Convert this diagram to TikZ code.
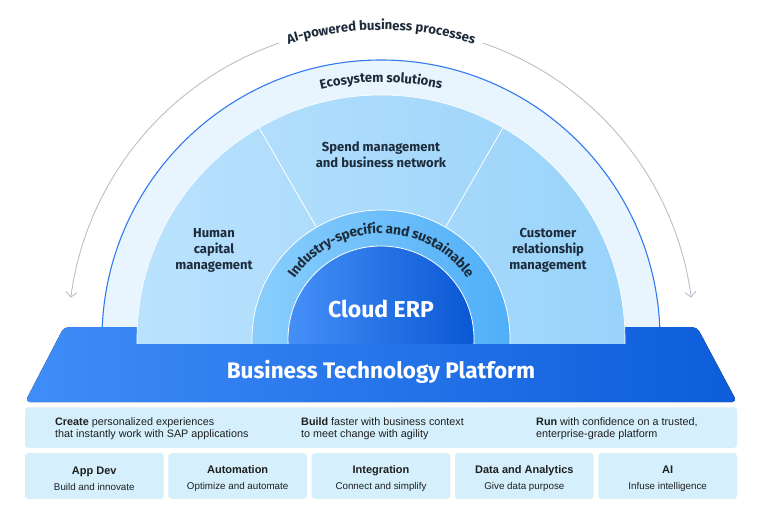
\documentclass[tikz,border=0pt]{standalone}
\usepackage{fontspec}
\setmainfont{Fira Sans}
\newfontfamily\arialfont{Liberation Sans}
\usetikzlibrary{arrows.meta,decorations.text}

\definecolor{inkdark}{HTML}{1D2B3B}
\definecolor{arcgrey}{HTML}{B7BFC8}
\definecolor{ecofill}{HTML}{E8F5FE}
\definecolor{ecoline}{HTML}{3479EE}
\definecolor{segleft}{HTML}{BAE2FD}
\definecolor{segright}{HTML}{99D3FA}
\definecolor{ringleft}{HTML}{8ACEFC}
\definecolor{ringright}{HTML}{4FAFF8}
\definecolor{erpleft}{HTML}{4590F7}
\definecolor{erpright}{HTML}{0A57D4}
\definecolor{platleft}{HTML}{3F8DF8}
\definecolor{platright}{HTML}{0D5CDA}
\definecolor{tilefill}{HTML}{D5F0FC}

\begin{document}
\begin{tikzpicture}[x=1pt,y=1pt,node distance={143.35pt},
  flow/.style={draw=arcgrey, line width=0.9pt, -{Straight Barb[length=5pt,width=11pt]}},
  split/.style={draw=white, line width=0.8pt},
  seglabel/.style={align=center, text=inkdark, font=\bfseries\fontsize{13}{16}\selectfont},
  tile/.style={fill=tilefill, rounded corners=3pt, minimum width=138.6pt, minimum height=45.6pt, inner sep=0pt, align=center, text=black!88, font=\arialfont\fontsize{11}{13}\selectfont},
  blurb/.style={align=left, anchor=west, inner sep=0pt, text=black!88, font=\arialfont\fontsize{10.8}{12.3}\selectfont}]
\useasboundingbox (0,0) rectangle (768,512);
\coordinate (C) at (381,173);

\coordinate (gl) at ([shift={(109:313)}]C);
\coordinate (gr) at ([shift={(71:313)}]C);
\draw[flow] (gl) arc[start angle=109, end angle=172.4, radius=313];
\draw[flow] (gr) arc[start angle=71, end angle=7.6, radius=313];
\path[decorate, decoration={text along path, text align=center, raise=-4pt,
  text={|\bfseries\fontsize{13.2}{15}\selectfont\color{inkdark}|AI-powered business processes}}]
  ([shift={(180:313)}]C) arc[start angle=180, end angle=0, radius=313];

\draw[fill=ecofill, draw=ecoline, line width=1.1pt] ([shift={(0:279)}]C) arc[start angle=0, end angle=180, radius=279] -- cycle;
\path[decorate, decoration={text along path, text align=center, raise=-4pt,
  text={|\bfseries\fontsize{13.2}{15}\selectfont\color{inkdark}|Ecosystem solutions}}]
  ([shift={(180:261)}]C) arc[start angle=180, end angle=0, radius=261];

\coordinate (pbl) at (25,110);
\coordinate (ptl) at (64,185);
\coordinate (ptr) at (697,185);
\coordinate (pbr) at (737,110);
\fill[left color=platleft, right color=platright, rounded corners=5pt] (pbl) -- (ptl) -- (ptr) -- (pbr) -- cycle;
\node[text=white, font=\bfseries\fontsize{22.5}{26}\selectfont, anchor=base] (btp) at (381,133.7) {Business Technology Platform};

\begin{scope}
\clip (0,169) rectangle (768,512);
\path[left color=segleft, right color=segright, draw=white, line width=0.6pt] (C) circle[radius=244];
\coordinate (la) at ([shift={(120:129)}]C);
\coordinate (lb) at ([shift={(120:244)}]C);
\coordinate (ra) at ([shift={(60:129)}]C);
\coordinate (rb) at ([shift={(60:244)}]C);
\draw[split] (la) -- (lb);
\draw[split] (ra) -- (rb);
\path[left color=ringleft, right color=ringright, draw=white, line width=0.8pt] (C) circle[radius=129];
\path[left color=erpleft, right color=erpright, draw=white, line width=0.8pt] (C) circle[radius=93];
\end{scope}
\path[decorate, decoration={text along path, text align=center, raise=-4.5pt,
  text={|\bfseries\fontsize{13.8}{15}\selectfont\color{inkdark}|Industry-specific and sustainable}}]
  ([shift={(180:110)}]C) arc[start angle=180, end angle=0, radius=110];

\node[seglabel] (spend) at (381,357) {Spend management\\and business network};
\node[seglabel] (human) at (214,262) {Human\\capital\\management};
\node[seglabel] (crm) at (548,262) {Customer\\relationship\\management};
\node[text=white, font=\bfseries\fontsize{23}{26}\selectfont, anchor=base] (erp) at (381,194.7) {Cloud ERP};

\node[fill=tilefill, rounded corners=3pt, minimum width=712pt, minimum height=40.5pt] (band) at (381,84.5) {};
\node[blurb] (create) at (55,83) {\textbf{Create} personalized experiences\\that instantly work with SAP applications};
\node[blurb] (build) at (301,83) {\textbf{Build} faster with business context\\to meet change with agility};
\node[blurb] (run) at (536,83) {\textbf{Run} with confidence on a trusted,\\enterprise-grade platform};

\node[tile] (t1) at (94.3,36) {\rule{0pt}{13pt}\textbf{App Dev}\\[3.5pt]{\fontsize{9.8}{12}\selectfont Build and innovate}};
\node[tile] (t2) [right of=t1] {\rule{0pt}{13pt}\textbf{Automation}\\[3.5pt]{\fontsize{9.8}{12}\selectfont Optimize and automate}};
\node[tile] (t3) [right of=t2] {\rule{0pt}{13pt}\textbf{Integration}\\[3.5pt]{\fontsize{9.8}{12}\selectfont Connect and simplify}};
\node[tile] (t4) [right of=t3] {\rule{0pt}{13pt}\textbf{Data and Analytics}\\[3.5pt]{\fontsize{9.8}{12}\selectfont Give data purpose}};
\node[tile] (t5) [right of=t4] {\rule{0pt}{13pt}\textbf{AI}\\[3.5pt]{\fontsize{9.8}{12}\selectfont Infuse intelligence}};
\end{tikzpicture}
\end{document}
